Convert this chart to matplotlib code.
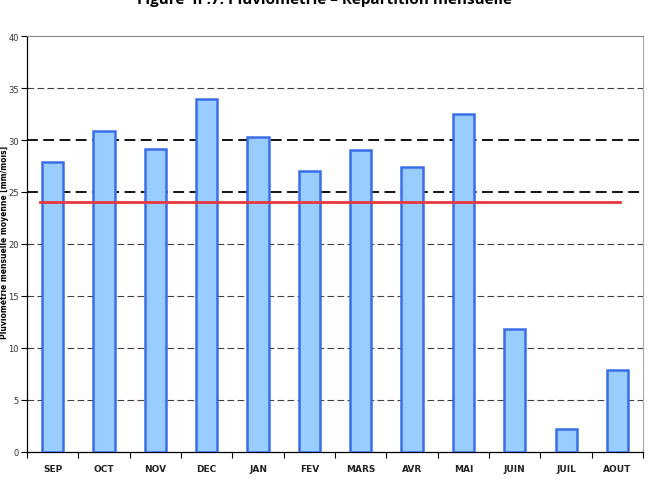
import numpy as np
import matplotlib.pyplot as plt

months = ["SEP", "OCT", "NOV", "DEC", "JAN", "FEV", "MARS", "AVR", "MAI", "JUIN", "JUIL", "AOUT"]
rain = [27.9, 30.9, 29.1, 33.9, 30.3, 27.0, 29.0, 27.4, 32.5, 11.8, 2.2, 7.9]
mean_rain = 24.0
yticks = [0, 5, 10, 15, 20, 25, 30, 35, 40]

fig = plt.figure(figsize=(6.49, 4.85), dpi=100)
ax = fig.add_axes([0.0416, 0.066, 0.9492, 0.8577])

x = np.arange(len(months))
ax.bar(x, rain, width=0.41, color="#99ccff", edgecolor="#3a6ee8", linewidth=1.8, zorder=3)
ax.plot([-0.25, 11.05], [mean_rain, mean_rain], color="#e8383d", linewidth=2, zorder=4)

# dashed grid, 25 and 30 drawn heavier like in the original
for y in yticks[1:-1]:
    heavy = y in (25, 30)
    ax.axhline(y, color="black", linestyle=(0, (6, 3)), linewidth=1.3 if heavy else 0.8,
               alpha=1.0 if heavy else 0.75, zorder=1)

ax.set_xlim(-0.5, len(months) - 0.5)
ax.set_ylim(0, 40)
ax.set_yticks(yticks)
ax.set_yticklabels([str(v) for v in yticks], fontsize=6, color="#333333")
ax.set_xticks(x)
ax.set_xticklabels(months, fontsize=6.5, fontweight="bold", color="#222222")
ax.set_xticks(np.arange(len(months) + 1) - 0.5, minor=True)
ax.tick_params(axis="x", which="major", length=0, pad=9)
ax.tick_params(axis="x", which="minor", length=4, width=0.8, direction="out")
ax.tick_params(axis="y", length=4, width=0.8, direction="out", pad=2)

ax.spines["right"].set_color("#aaaaaa")
ax.spines["top"].set_color("#888888")
for s in ["left", "bottom"]:
    ax.spines[s].set_linewidth(0.9)

fig.text(0.006, 0.5, "Pluviométrie mensuelle moyenne [mm/mois]", rotation=90,
         fontsize=5.5, fontweight="bold", ha="center", va="center")
fig.text(0.5, 1.014, "Figure  II .7: Pluviométrie – Répartition mensuelle",
         fontsize=11, fontweight="bold", ha="center", va="top", family="Open Sans")

fig.savefig("out.png", dpi=100)
